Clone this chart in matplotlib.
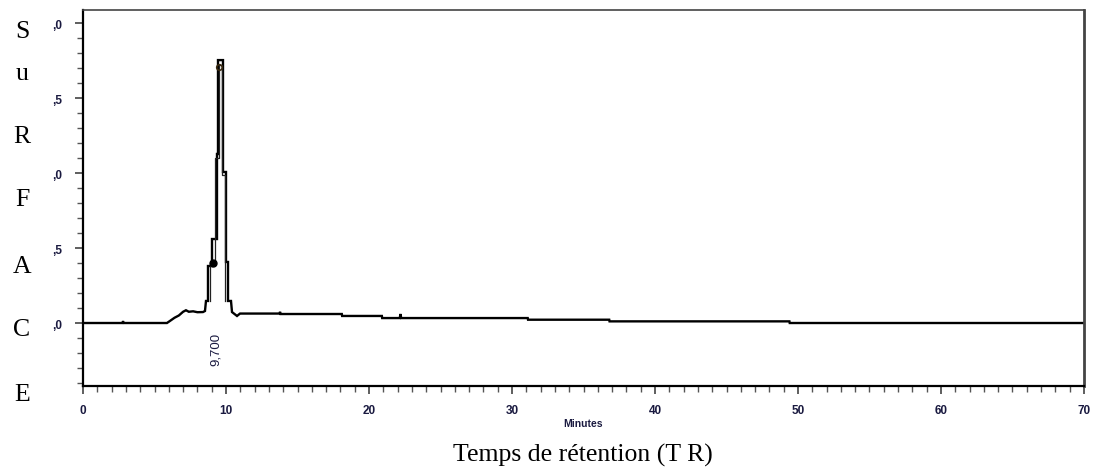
import matplotlib
matplotlib.use("Agg")
import matplotlib.pyplot as plt
from matplotlib.ticker import FixedLocator, FixedFormatter

# Chromatogram trace (retention time in minutes, detector response)
time_min = [0.0, 2.75, 2.8, 2.85, 5.87, 6.1, 6.4, 6.7, 7.0, 7.2, 7.4, 7.7, 8.0, 8.39,
            8.53, 8.6, 8.74, 8.74, 9.02, 9.02, 9.37, 9.37, 9.44, 9.44, 9.79, 9.79,
            10.0, 10.0, 10.14, 10.14, 10.35, 10.42, 10.77, 10.98, 13.75, 13.78,
            13.81, 18.1, 18.12, 20.9, 20.92, 22.15, 22.2, 22.25, 31.1, 31.12,
            36.8, 36.82, 49.4, 49.42, 70.0]
signal = [0.0, 0.0, 0.012, 0.0, 0.0, 0.015, 0.035, 0.05, 0.075, 0.085, 0.075, 0.078,
          0.072, 0.073, 0.08, 0.147, 0.147, 0.38, 0.38, 0.56, 0.56, 1.127, 1.127,
          1.753, 1.753, 1.007, 1.007, 0.407, 0.407, 0.147, 0.147, 0.073, 0.047,
          0.063, 0.063, 0.075, 0.06, 0.06, 0.047, 0.047, 0.033, 0.033, 0.06, 0.033,
          0.033, 0.022, 0.022, 0.011, 0.011, 0.0, 0.0]

# Inner outline of the main peak
inner_time = [8.9, 8.9, 9.25, 9.25, 9.52, 9.52, 9.7, 9.7, 9.9, 9.9]
inner_signal = [0.147, 0.40, 0.40, 1.10, 1.10, 1.72, 1.72, 0.99, 0.99, 0.147]

# Peak markers
marker_time = [9.09]
marker_signal = [0.40]
apex_time = [9.5]
apex_signal = [1.71]

# Peak annotation
peak_rt = 9.700
peak_label = "9,700"

# Axis ticks
y_ticks = [0.0, 0.5, 1.0, 1.5, 2.0]
y_tick_labels = [",0", ",5", ",0", ",5", ",0"]
x_ticks = [0, 10, 20, 30, 40, 50, 60, 70]
x_tick_labels = ["0", "10", "20", "30", "40", "50", "60", "70"]

side_letters = ["S", "u", "R", "F", "A", "C", "E"]
side_letter_y = [32, 74, 137, 200, 267, 330, 395]  # pixel rows from top

W, H = 1095, 477
fig = plt.figure(figsize=(W / 100, H / 100), dpi=100)
ax = fig.add_axes([83 / W, 1 - 387 / H, (1084 - 83) / W, (387 - 11) / H])

ax.plot(time_min, signal, color="black", lw=1.7, solid_joinstyle="miter")
ax.plot(inner_time, inner_signal, color="#222222", lw=0.9)
ax.plot(marker_time, marker_signal, "o", color="black", ms=5)
ax.plot(apex_time, apex_signal, "o", mfc="none", mec="#3a2a10", ms=4, mew=1.2)

ax.set_xlim(0, 70)
ax.set_ylim(-0.42, 2.087)

tick_color = "#1a1a40"
ax.xaxis.set_major_locator(FixedLocator(x_ticks))
ax.xaxis.set_major_formatter(FixedFormatter(x_tick_labels))
ax.xaxis.set_minor_locator(FixedLocator([v for v in range(0, 71) if v % 10]))
ax.yaxis.set_major_locator(FixedLocator(y_ticks))
ax.yaxis.set_major_formatter(FixedFormatter(y_tick_labels))
ax.yaxis.set_minor_locator(FixedLocator([round(-0.4 + 0.1 * i, 2) for i in range(25)
                                         if round(-0.4 + 0.1 * i, 2) not in y_ticks]))
ax.tick_params(axis="both", which="major", direction="out", length=6, width=1.1,
               labelsize=8.5, labelcolor=tick_color, color="#333333")
ax.tick_params(axis="both", which="minor", direction="out", length=4, width=1.0,
               color="#555555")
ax.tick_params(axis="x", pad=7)
ax.tick_params(axis="y", pad=9)
for lbl in ax.get_xticklabels() + ax.get_yticklabels():
    lbl.set_fontweight("bold")
    lbl.set_family("Liberation Sans")

for side, lw, col in [("left", 1.6, "black"), ("bottom", 1.6, "black"),
                      ("top", 1.2, "#444444"), ("right", 2.0, "#444444")]:
    ax.spines[side].set_linewidth(lw)
    ax.spines[side].set_color(col)

# Retention-time label under the peak
ax.text(peak_rt, -0.06, peak_label, rotation=90, ha="right", va="top",
        fontsize=9.5, color=tick_color, family="Liberation Sans")

fig.text(583 / W, 1 - 424 / H, "Minutes", ha="center", va="center",
         fontsize=7.5, color=tick_color, family="Liberation Sans", fontweight="bold")

for letter, py in zip(side_letters, side_letter_y):
    fig.text(22 / W, 1 - py / H, letter, ha="center", va="center",
             fontsize=18.5, family="Liberation Serif")

fig.text(583 / W, 1 - 455 / H, "Temps de rétention (T R)", ha="center", va="center",
         fontsize=18.5, family="Liberation Serif")

fig.savefig("out.png", dpi=100)
